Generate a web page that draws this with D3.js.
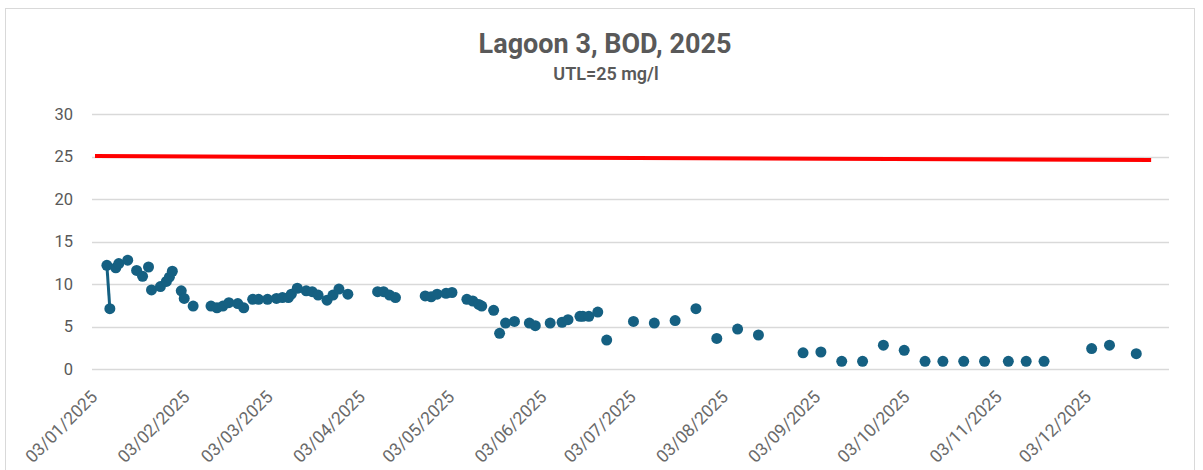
<!DOCTYPE html>
<html><head><meta charset="utf-8">
<script src="https://cdn.jsdelivr.net/npm/d3@7"></script>
<style>
body{margin:0;background:#fff;}
svg{display:block;font-family:Roboto,"Open Sans",sans-serif;}
</style>
</head><body>
<svg id="chart" width="1203" height="470"></svg>
<script>
// ---- data ----
const sampleDates = [
 "2025-01-08","2025-01-09","2025-01-11","2025-01-12","2025-01-15","2025-01-18","2025-01-20","2025-01-22","2025-01-23","2025-01-26",
 "2025-01-28","2025-01-29","2025-01-30","2025-02-02","2025-02-03","2025-02-06","2025-02-12","2025-02-14","2025-02-16","2025-02-18",
 "2025-02-21","2025-02-23","2025-02-26","2025-02-28","2025-03-03","2025-03-06","2025-03-08","2025-03-10","2025-03-11","2025-03-13",
 "2025-03-16","2025-03-18","2025-03-20","2025-03-23","2025-03-25","2025-03-27","2025-03-30","2025-04-09","2025-04-11","2025-04-13",
 "2025-04-15","2025-04-25","2025-04-27","2025-04-29","2025-05-02","2025-05-04","2025-05-09","2025-05-11","2025-05-13","2025-05-14",
 "2025-05-18","2025-05-20","2025-05-22","2025-05-25","2025-05-30","2025-06-01","2025-06-06","2025-06-10","2025-06-12","2025-06-16",
 "2025-06-17","2025-06-19","2025-06-22","2025-06-25","2025-07-04","2025-07-11","2025-07-18","2025-07-25","2025-08-01","2025-08-08",
 "2025-08-15","2025-08-30","2025-09-05","2025-09-12","2025-09-19","2025-09-26","2025-10-03","2025-10-10","2025-10-16","2025-10-23",
 "2025-10-30","2025-11-07","2025-11-13","2025-11-19","2025-12-05","2025-12-11","2025-12-20"
];
const bodValues = [
 12.2, 7.1, 11.9, 12.4, 12.8, 11.6, 10.9, 12.0, 9.3, 9.7,
 10.3, 10.8, 11.5, 9.2, 8.3, 7.4, 7.4, 7.2, 7.4, 7.8,
 7.7, 7.2, 8.2, 8.2, 8.2, 8.3, 8.4, 8.4, 8.8, 9.5,
 9.2, 9.1, 8.7, 8.1, 8.7, 9.4, 8.8, 9.1, 9.1, 8.7,
 8.4, 8.6, 8.5, 8.8, 8.9, 9.0, 8.2, 8.0, 7.6, 7.4,
 6.9, 4.2, 5.4, 5.6, 5.4, 5.1, 5.4, 5.5, 5.8, 6.2,
 6.2, 6.2, 6.7, 3.4, 5.6, 5.4, 5.7, 7.1, 3.6, 4.7,
 4.0, 1.9, 2.0, 0.9, 0.9, 2.8, 2.2, 0.9, 0.9, 0.9,
 0.9, 0.9, 0.9, 0.9, 2.4, 2.8, 1.8
];
const linkedIndices = [0, 1];           // consecutive samples joined by a line
const utlDates = ["2025-01-04", "2025-12-25"];
const utlValues = [25.05, 24.6];
const yTicks = [0, 5, 10, 15, 20, 25, 30];
const xTickDates = ["2025-01-03","2025-02-03","2025-03-03","2025-04-03","2025-05-03","2025-06-03",
                    "2025-07-03","2025-08-03","2025-09-03","2025-10-03","2025-11-03","2025-12-03"];
const xDomain = ["2025-01-03", "2025-12-31"];
const titleText = "Lagoon 3, BOD, 2025";
const subtitleText = "UTL=25 mg/l";

// ---- drawing ----
const parse = d3.utcParse("%Y-%m-%d");
const fmt = d3.utcFormat("%d/%m/%Y");
const svg = d3.select("#chart");
const plot = {left: 92, right: 1169, top: 114, bottom: 369};
const textColor = "#595959";

svg.append("rect").attr("x", 5.5).attr("y", 8.5).attr("width", 1189).attr("height", 480)
  .attr("fill", "#fff").attr("stroke", "#d9d9d9").attr("stroke-width", 1);

const x = d3.scaleUtc().domain(xDomain.map(parse)).range([plot.left, plot.right]);
const y = d3.scaleLinear().domain([0, 30]).range([plot.bottom, plot.top]);

// gridlines
svg.append("g").selectAll("line").data(yTicks).join("line")
  .attr("x1", plot.left).attr("x2", plot.right)
  .attr("y1", d => Math.round(y(d)) + 0.5).attr("y2", d => Math.round(y(d)) + 0.5)
  .attr("stroke", "#d9d9d9").attr("stroke-width", 1.3);

// y axis labels
const yAxis = d3.axisLeft(y).tickValues(yTicks).tickSize(0).tickPadding(0);
const gy = svg.append("g").attr("transform", `translate(${plot.left - 19},0)`).call(yAxis);
gy.select(".domain").remove();
gy.selectAll("text").attr("fill", textColor).style("font-size", "16.5px")
  .style("font-family", "Roboto, sans-serif");

// x axis labels
const xAxis = d3.axisBottom(x).tickValues(xTickDates.map(parse)).tickFormat(fmt).tickSize(0);
const gx = svg.append("g").attr("transform", `translate(0,${plot.bottom})`).call(xAxis);
gx.select(".domain").remove();
gx.selectAll("text")
  .attr("fill", "#6a6a6a").style("font-size", "17.5px").style("font-family", "Roboto, sans-serif")
  .attr("text-anchor", "end").attr("dy", null).attr("y", null)
  .attr("transform", "translate(6,29) rotate(-45)");

// UTL line
const utl = utlDates.map((d, i) => ({date: parse(d), v: utlValues[i]}));
svg.append("path").datum(utl)
  .attr("d", d3.line().x(d => x(d.date)).y(d => y(d.v)))
  .attr("fill", "none").attr("stroke", "#ff0000").attr("stroke-width", 4);

// BOD
const bod = sampleDates.map((d, i) => ({date: parse(d), v: bodValues[i]}));
const color = "#156082";
svg.append("path").datum(linkedIndices.map(i => bod[i]))
  .attr("d", d3.line().x(d => x(d.date)).y(d => y(d.v)))
  .attr("fill", "none").attr("stroke", color).attr("stroke-width", 3);
svg.append("g").selectAll("circle").data(bod).join("circle")
  .attr("cx", d => x(d.date)).attr("cy", d => y(d.v)).attr("r", 5.5)
  .attr("fill", color);

// titles
svg.append("text").attr("x", 605).attr("y", 53).attr("text-anchor", "middle")
  .attr("fill", textColor).style("font-size", "27px").style("font-weight", "700")
  .text(titleText);
svg.append("text").attr("x", 606).attr("y", 80).attr("text-anchor", "middle")
  .attr("fill", textColor).style("font-size", "18px").style("font-weight", "600")
  .text(subtitleText);
</script>
</body></html>
